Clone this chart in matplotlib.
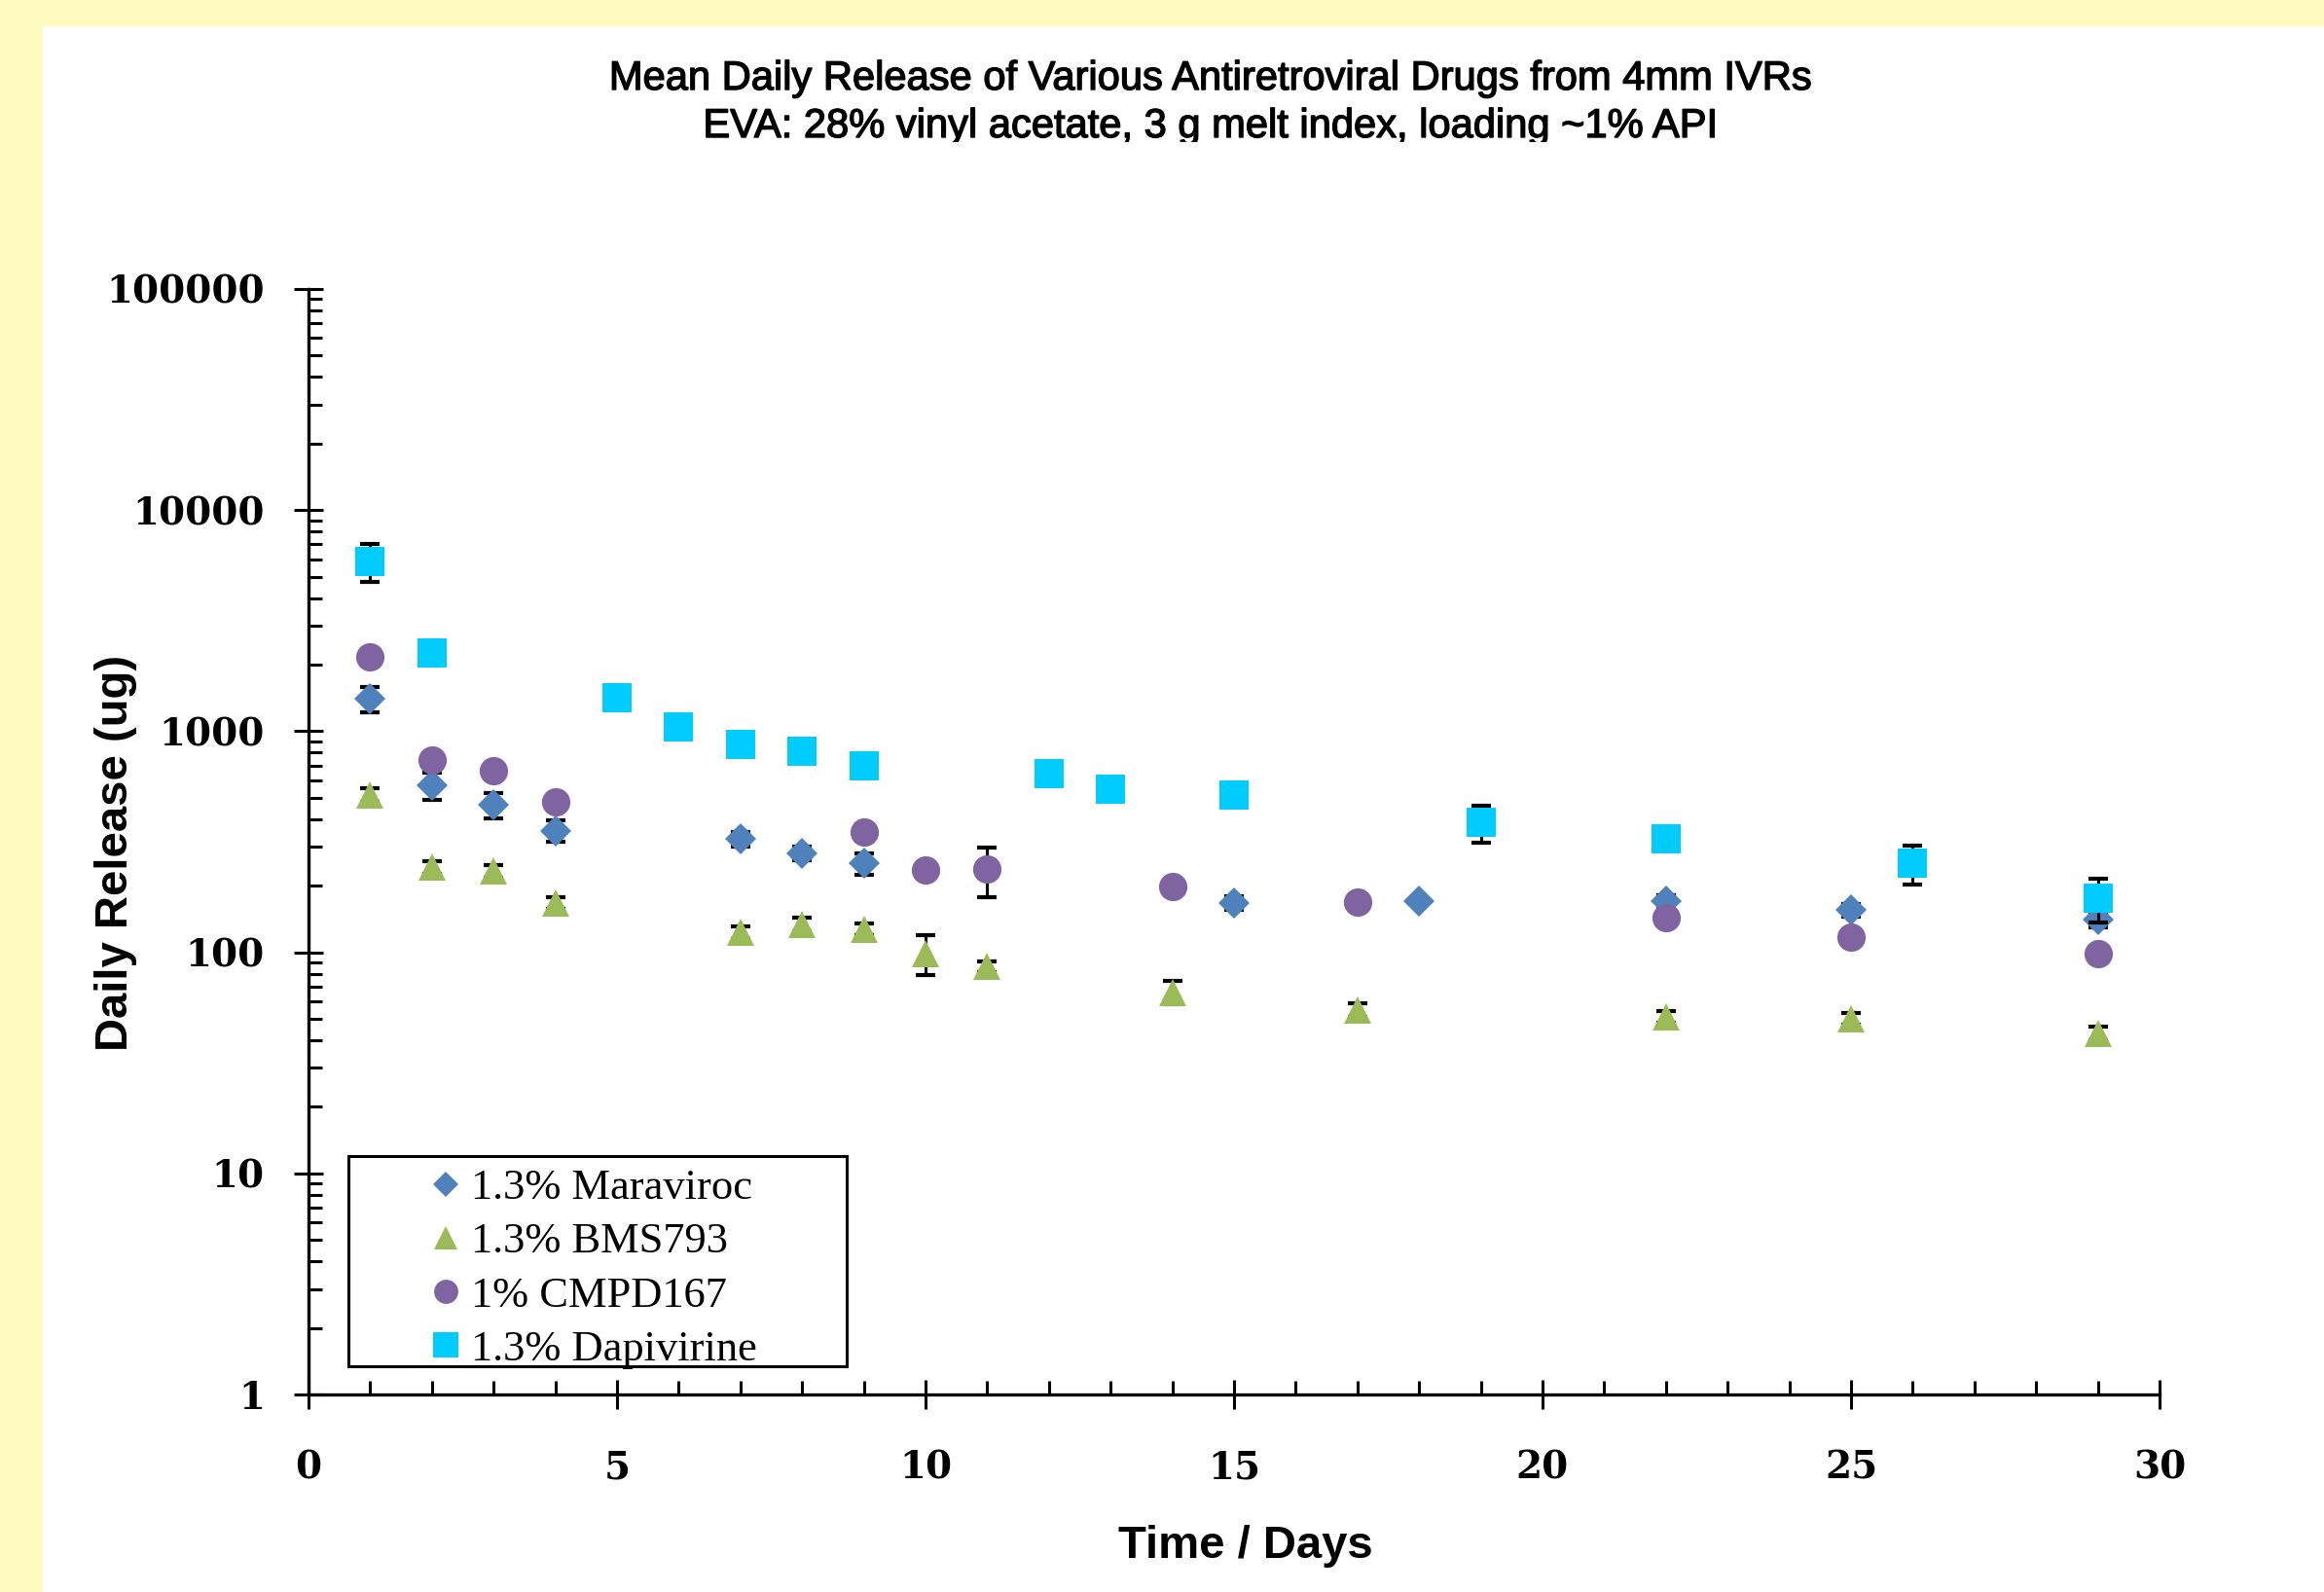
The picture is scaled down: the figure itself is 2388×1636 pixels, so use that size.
import matplotlib
matplotlib.use("Agg")
import matplotlib.pyplot as plt
import matplotlib.patheffects as pe
from matplotlib.patches import Rectangle
from matplotlib.transforms import Bbox, TransformedBbox
from matplotlib.ticker import LogLocator, NullFormatter, FixedLocator

# data (days, ug/day, error)
mvc_days = [1, 2, 3, 4, 7, 8, 9, 15, 18, 22, 25, 29]
mvc_vals = [1400, 570, 465, 355, 325, 280, 253, 167, 170, 170, 155, 140]
mvc_err = [180, 80, 60, 40, 25, 20, 28, 12, 5, 12, 10, 10]

bms_days = [1, 2, 3, 4, 7, 8, 9, 10, 11, 14, 17, 22, 25, 29]
bms_vals = [515, 242, 233, 167, 123, 134, 127, 99, 86, 66, 55, 51, 50, 43]
bms_err = [35, 15, 15, 10, 8, 9, 8, 20, 5, 8, 4, 3, 3, 3]

cmpd_days = [1, 2, 3, 4, 9, 10, 11, 14, 17, 22, 25, 29]
cmpd_vals = [2170, 740, 663, 479, 350, 236, 237, 199, 169, 144, 117, 99]
cmpd_err = [100, 40, 30, 35, 30, 10, 60, 10, 8, 8, 5, 5]

dpv_days = [1, 2, 5, 6, 7, 8, 9, 12, 13, 15, 19, 22, 26, 29]
dpv_vals = [5860, 2260, 1416, 1045, 871, 811, 697, 643, 547, 514, 387, 326, 253, 176]
dpv_err = [1150, 100, 60, 50, 40, 30, 30, 30, 25, 20, 75, 20, 50, 40]

labels = ['1.3% Maraviroc', '1.3% BMS793', '1% CMPD167', '1.3% Dapivirine']
colors = ['#4F81BD', '#9BBB59', '#8064A2', '#00CCFF']
markers = ['D', '^', 'o', 's']
msizes = [16, 20, 21, 22]

title1 = 'Mean Daily Release of Various Antiretroviral Drugs from 4mm IVRs'
title2 = 'EVA: 28% vinyl acetate, 3 g melt index, loading ~1% API'

W, H = 2388, 1636
fig = plt.figure(figsize=(W / 100, H / 100), dpi=100)
fig.patch.set_facecolor('white')

# pale yellow slide border
yellow = '#FFFAC0'
fig.patches.append(Rectangle((0, 0), 44 / W, 1, transform=fig.transFigure,
                             facecolor=yellow, edgecolor='none', zorder=0))
fig.patches.append(Rectangle((0, 1 - 27 / H), 1, 27 / H, transform=fig.transFigure,
                             facecolor=yellow, edgecolor='none', zorder=0))

ax = fig.add_axes([317 / W, 1 - 1433 / H, (2219 - 317) / W, (1433 - 297) / H])
ax.set_facecolor('white')

series = [(mvc_days, mvc_vals, mvc_err), (bms_days, bms_vals, bms_err),
          (cmpd_days, cmpd_vals, cmpd_err), (dpv_days, dpv_vals, dpv_err)]
handles = []
for (d, v, e), lab, c, m, ms in zip(series, labels, colors, markers, msizes):
    ax.errorbar(d, v, yerr=e, fmt='none', ecolor='black', elinewidth=2.2,
                capsize=7, capthick=3)
    h, = ax.plot(d, v, linestyle='none', marker=m, color=c, markersize=ms,
                 markeredgewidth=0, label=lab)
    handles.append(h)

ax.set_yscale('log')
ax.set_xlim(0, 30)
ax.set_ylim(1, 100000)
ax.xaxis.set_major_locator(FixedLocator([0, 5, 10, 15, 20, 25, 30]))
ax.xaxis.set_minor_locator(FixedLocator(range(0, 31)))
ax.yaxis.set_major_locator(LogLocator(base=10, numticks=10))
ax.yaxis.set_minor_locator(LogLocator(base=10, subs=range(2, 10), numticks=10))
ax.yaxis.set_minor_formatter(NullFormatter())
ax.set_yticks([1, 10, 100, 1000, 10000, 100000])
ax.set_yticklabels(['1', '10', '100', '1000', '10000', '100000'])

for s in ['top', 'right']:
    ax.spines[s].set_visible(False)
for s in ['left', 'bottom']:
    ax.spines[s].set_linewidth(2.4)

tick_font = dict(family='DejaVu Serif', weight='bold', size=28)
ax.tick_params(axis='both', which='major', direction='inout', length=21, width=2.2)
ax.tick_params(axis='both', which='minor', direction='in', length=10, width=2.2)
ax.tick_params(axis='x', which='major', pad=30)
ax.tick_params(axis='y', which='major', pad=22)
for t in ax.get_xticklabels() + ax.get_yticklabels():
    t.set_fontproperties(tick_font)

lab_font = ['Liberation Sans Narrow', 'Liberation Sans', 'DejaVu Sans']
fig.text(119 / W, 1 - 876 / H, 'Daily Release (ug)', rotation=90, ha='center', va='center',
         fontsize=34, fontweight='bold', family=lab_font)
fig.text(1280 / W, 1 - 1589 / H, 'Time / Days', ha='center', va='center',
         fontsize=34, fontweight='bold', family=lab_font)

# title, second line cut off at the bottom like in the slide
clip = TransformedBbox(Bbox([[0, 1 - 146 / H], [1, 1]]), fig.transFigure)
for txt, yy in [(title1, 81), (title2, 130)]:
    t = fig.text(1243 / W, 1 - yy / H, txt, ha='center', va='center', fontsize=30,
                 family=lab_font,
                 path_effects=[pe.withStroke(linewidth=1.0, foreground='black')])
    t.set_clip_on(True)
    t.set_clip_box(clip)

leg = fig.legend(handles=handles, labels=labels, loc='upper left',
                 bbox_to_anchor=(441 / W, 1 - 1201 / H), frameon=False,
                 prop=dict(family='Liberation Serif', size=32),
                 handlelength=0.75, handletextpad=0.22, labelspacing=0.34,
                 borderpad=0, borderaxespad=0, markerscale=0.85)
fig.patches.append(Rectangle((358 / W, 1 - 1404 / H), 512 / W, 216 / H,
                             transform=fig.transFigure, fill=False,
                             edgecolor='black', linewidth=2.2, zorder=5))

fig.savefig('out.png', dpi=100, facecolor='white')
